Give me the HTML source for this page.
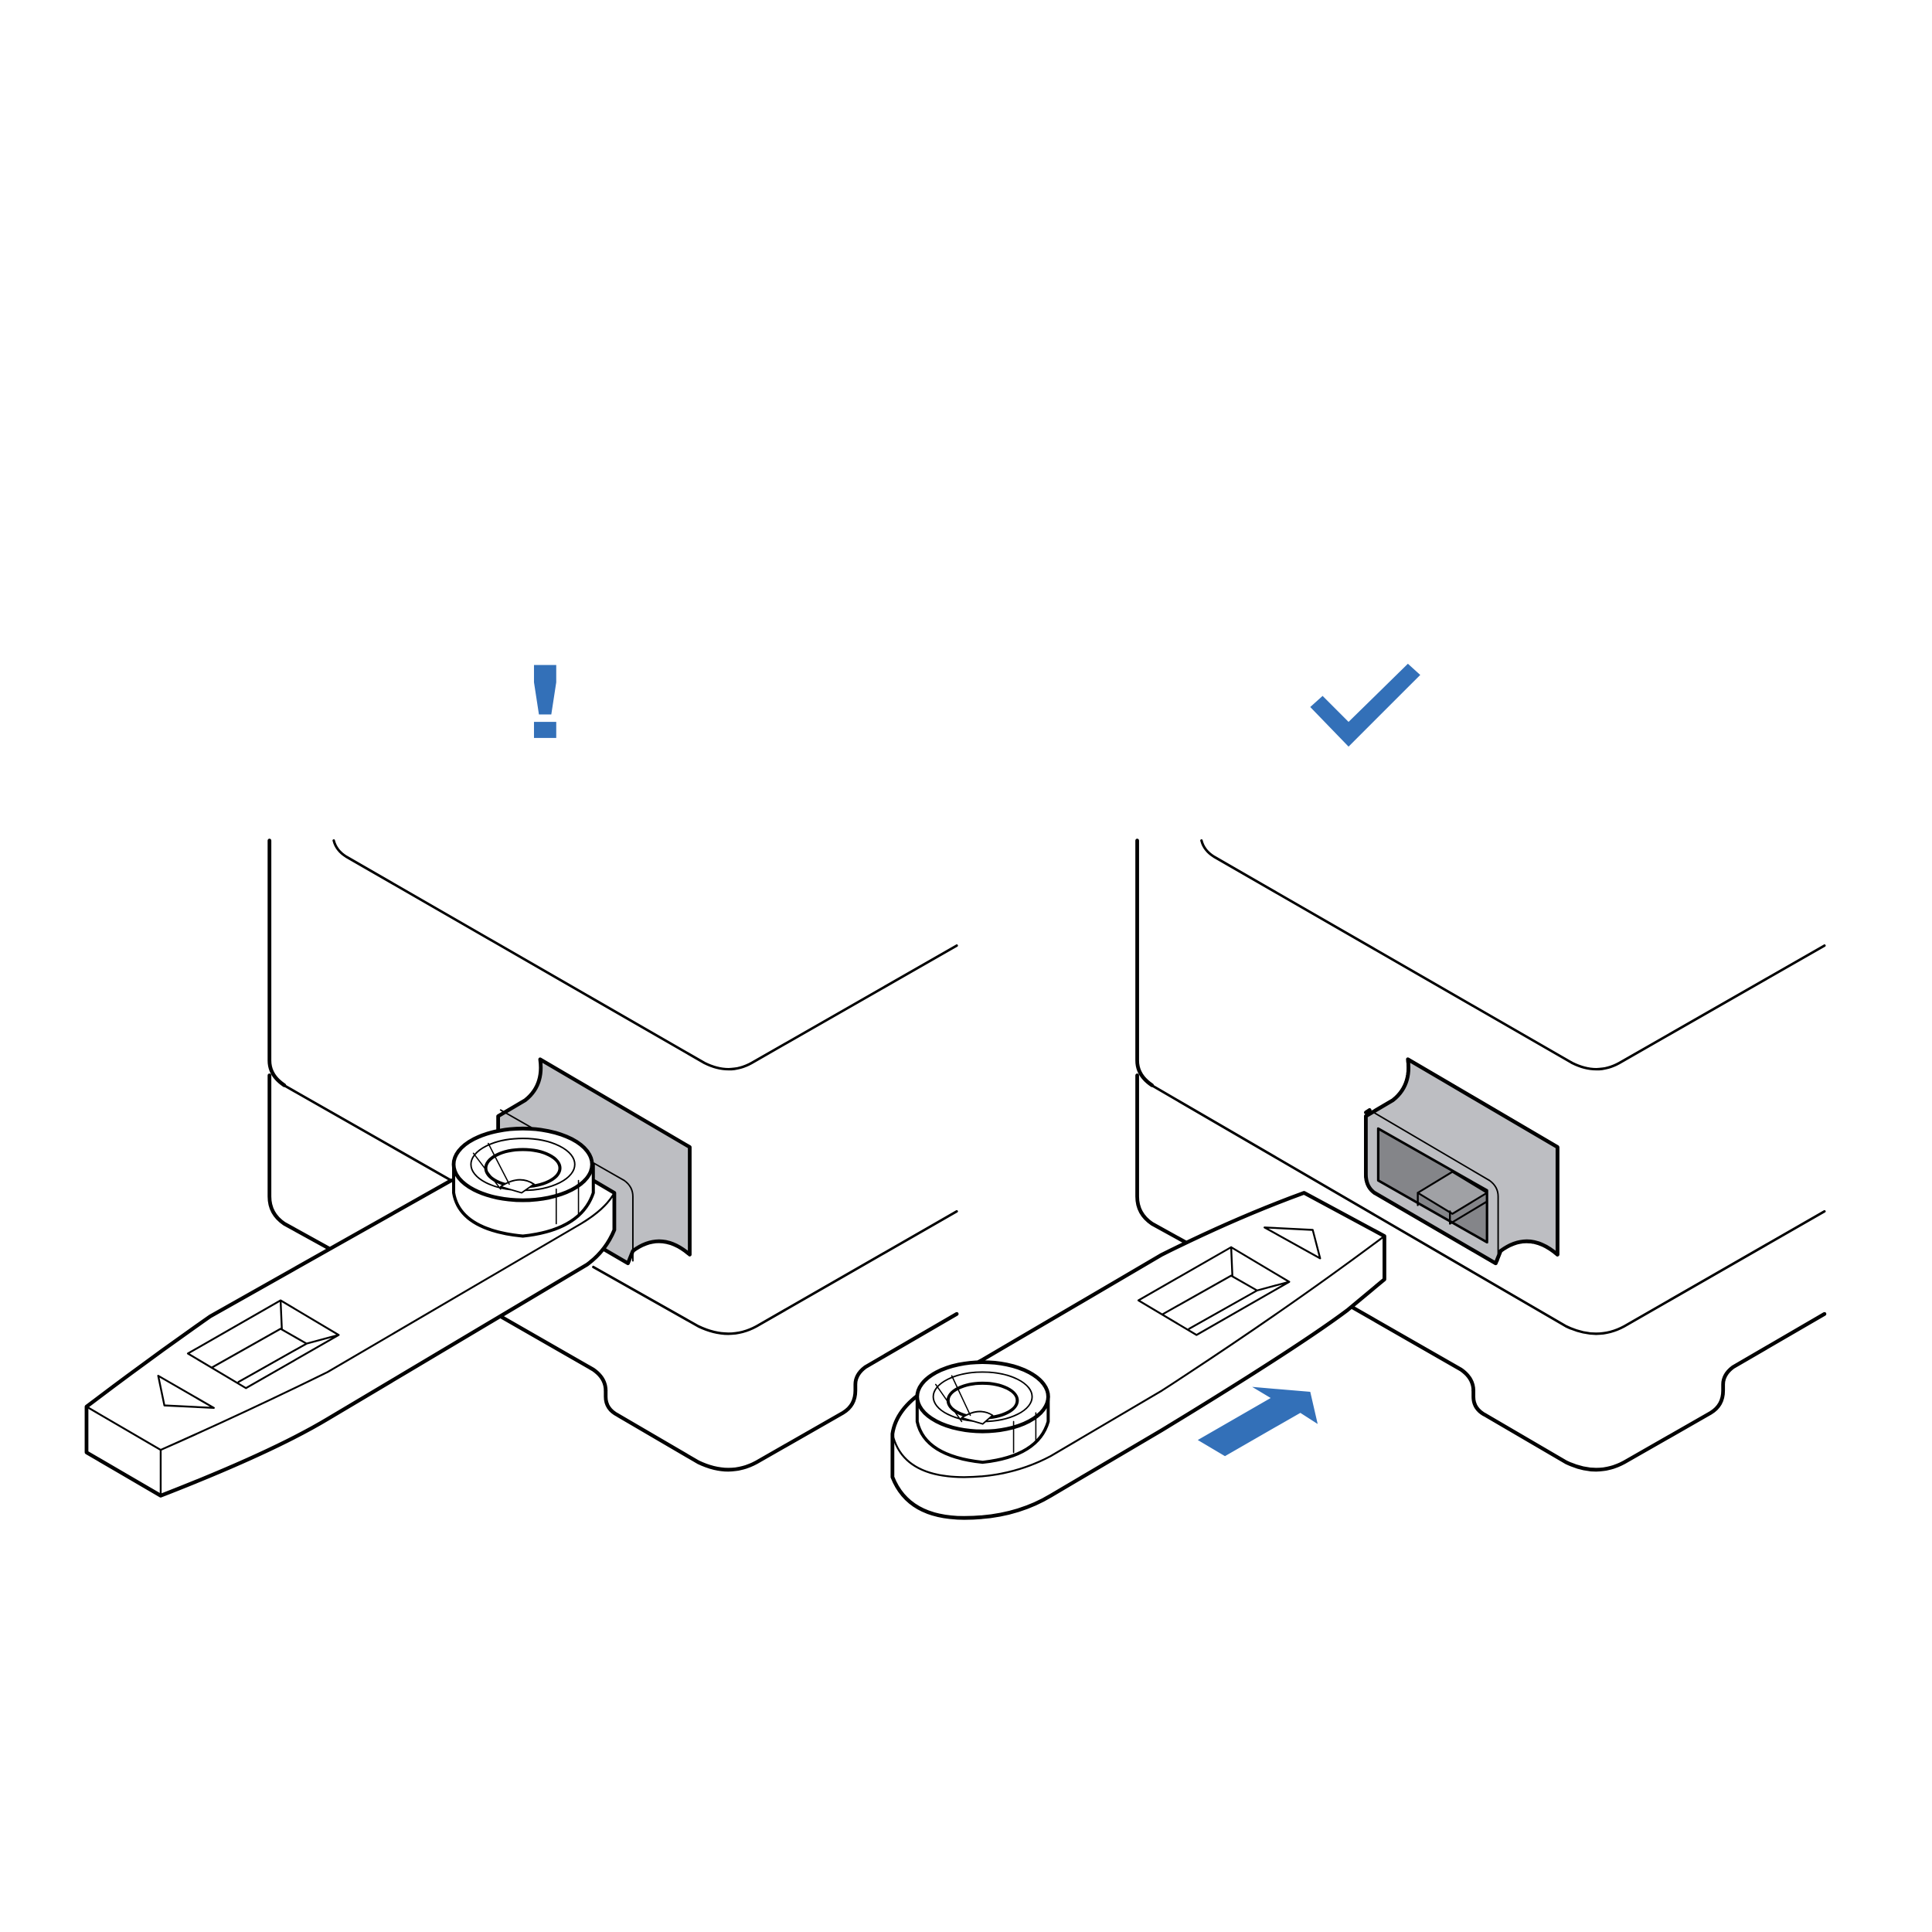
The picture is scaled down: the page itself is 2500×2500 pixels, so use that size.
<!DOCTYPE html>
<html><head><meta charset="utf-8"><style>html,body{margin:0;padding:0;background:#fff}svg{display:block}</style></head>
<body>
<svg width="2500" height="2500" viewBox="0 0 1563 1563" xmlns="http://www.w3.org/2000/svg" fill="none" stroke="#000" stroke-linejoin="round" stroke-linecap="round">
<defs>
<g id="dev">
  <path d="M218 680 V858 Q218 870 230 878" stroke-width="3"/>
  <path d="M270 680 Q272 688 280 693 L570 860 Q590 870 608 860 L774 765" stroke-width="2"/>
  <path d="M218 870 V968 Q218 982 230 990 L268 1011" stroke-width="3"/>
  <path d="M490 1125 V1130 Q490 1140 500 1145 L565 1183 Q590 1195 612 1183 L682 1143 Q692 1137 692 1125 V1120 Q692 1112 700 1106 L774 1063" stroke-width="3"/>
  <path d="M437 857 L558 928 V1015 Q535 995 512 1012 L508 1022 L410 965 Q403 960 403 950 V903 L425 890 Q440 878 437 857 Z" fill="#bdbec2" stroke-width="3"/>
</g>
</defs>
<use href="#dev"/>
<use href="#dev" x="702"/>

<!-- left device specific lines -->
<path d="M228 877 L365 955" stroke-width="2"/>
<path d="M480 1025 L565 1073 Q590 1085 612 1073 L774 980" stroke-width="2"/>
<path d="M405 1065 L480 1108 Q490 1115 490 1125" stroke-width="3"/>
<!-- right device specific lines -->
<path d="M930 877 L1267 1073 Q1292 1085 1314 1073 L1476 980" stroke-width="2"/>
<path d="M1093 1057 L1182 1108 Q1192 1115 1192 1125" stroke-width="3"/>

<!-- right port inner -->
<path d="M1105 900 L1108 898" stroke-width="3"/>
<path d="M1437 857 L1260 928" stroke="none"/>
<path d="M1139 857 L1260 928 V1015 Q1237 995 1214 1012 L1210 1022 L1112 965 Q1105 960 1105 950 V903 L1127 890 Q1142 878 1139 857 Z" fill="#bdbec2" stroke-width="3"/>
<path d="M1108 898 L1205 955 Q1212 960 1212 968 V1020" stroke-width="1.2"/>
<path d="M1115 913 L1203 963 V1005 L1115 955 Z" fill="#848589" stroke-width="2"/>
<path d="M1147 965 L1175 948 L1203 965 L1175 982 Z" fill="#a0a1a5" stroke-width="1.5"/>
<path d="M1147 965 V975 M1173 980 V990 L1203 972" stroke-width="1.5"/>

<!-- left port inner lines -->
<path d="M405 898 L505 955 Q512 960 512 968 V1020" stroke-width="1.2"/>

<!-- left strap -->
<path d="M70 1138 Q120 1100 170 1065 L365 955 L480 955 L497 965 V995 Q490 1012 475 1023 L265 1148 Q220 1175 130 1210 L70 1175 Z" fill="#fff" stroke-width="3"/>
<path d="M70 1138 L130 1173 V1210" stroke-width="1.5"/>
<path d="M130 1173 Q200 1142 265 1110 L470 990 Q490 978 497 965" stroke-width="1.5"/>
<path d="M152 1095 L227 1052 L274 1080 L199 1123 Z M172 1106 L227 1075 L248 1087 L193 1118 M227 1052 L228 1075 M248 1087 L274 1080" fill="#fff" stroke-width="1.5"/>
<path d="M128 1113 L173 1139 L133 1137 Z" fill="#fff" stroke-width="1.5"/>
<!-- left ring -->
<path d="M367 942 V965 Q372 995 423 1000 Q470 995 480 965 V942" fill="#fff" stroke-width="2.5"/>
<ellipse cx="423" cy="942" rx="56" ry="29" fill="#fff" stroke-width="3"/>
<ellipse cx="423" cy="942" rx="42" ry="21" stroke-width="1.2"/>
<ellipse cx="423" cy="945" rx="30" ry="15" stroke-width="2.5"/>
<path d="M405 960 Q420 950 432 958 L422 965 Z" fill="#fff" stroke-width="1.2"/>
<path d="M395 925 L412 958 M383 933 L405 962 M450 962 V990 M468 955 V982" stroke-width="1"/>

<!-- right strap -->
<path d="M795 1100 L940 1015 Q1000 985 1055 965 L1120 1000 V1035 L1090 1060 Q1050 1090 940 1157 L850 1210 Q820 1228 780 1228 Q735 1228 722 1195 V1160 Q725 1140 748 1125 Z" fill="#fff" stroke-width="3"/>
<path d="M722 1160 Q730 1195 780 1195 Q818 1195 850 1178 L940 1125 Q1040 1060 1120 1000" stroke-width="1.5"/>
<path d="M921 1052 L996 1009 L1043 1037 L968 1080 Z M941 1063 L996 1032 L1017 1044 L962 1075 M996 1009 L997 1032 M1017 1044 L1043 1037" fill="#fff" stroke-width="1.5"/>
<path d="M1023 993 L1062 995 L1068 1018 Z" fill="#fff" stroke-width="1.5"/>
<path d="M742 1128 V1150 Q748 1178 795 1183 Q840 1178 848 1150 V1128" fill="#fff" stroke-width="2.5"/>
<ellipse cx="795" cy="1130" rx="53" ry="28" fill="#fff" stroke-width="3"/>
<ellipse cx="795" cy="1130" rx="40" ry="20" stroke-width="1.2"/>
<ellipse cx="795" cy="1133" rx="28" ry="14" stroke-width="2.5"/>
<path d="M778 1147 Q792 1138 803 1145 L795 1152 Z" fill="#fff" stroke-width="1.2"/>
<path d="M770 1113 L785 1145 M757 1120 L778 1150 M820 1150 V1175 M838 1143 V1165" stroke-width="1"/>

<!-- blue marks -->
<g fill="#3370b8" stroke="none">
  <path d="M432 538 H450 V552 L446 578 H436 L432 552 Z"/>
  <rect x="432" y="584" width="18" height="13"/>
  <path d="M1060 572 L1070 563 L1091 584 L1139 537 L1149 546 L1091 604 Z"/>
  <path d="M969 1165 L1028 1131 L1013 1122 L1060 1126 L1066 1152 L1052 1143 L991 1178 Z"/>
</g>
</svg>
</body></html>
